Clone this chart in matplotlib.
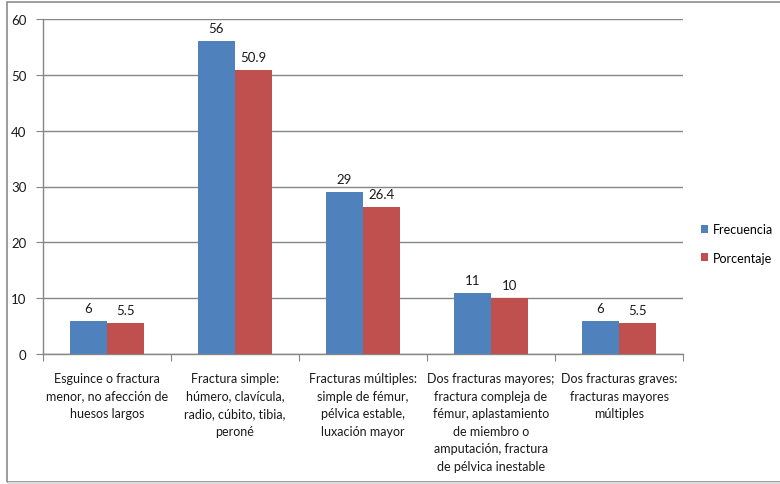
import matplotlib
matplotlib.use("Agg")
import matplotlib.pyplot as plt
from matplotlib.patches import Rectangle
import numpy as np

categories = [
    "Esguince o fractura\nmenor, no afección de\nhuesos largos",
    "Fractura simple:\nhúmero, clavícula,\nradio, cúbito, tibia,\nperoné",
    "Fracturas múltiples:\nsimple de fémur,\npélvica estable,\nluxación mayor",
    "Dos fracturas mayores;\nfractura compleja de\nfémur, aplastamiento\nde miembro o\namputación, fractura\nde pélvica inestable",
    "Dos fracturas graves:\nfracturas mayores\nmúltiples",
]
frecuencia = [6, 56, 29, 11, 6]
porcentaje = [5.5, 50.9, 26.4, 10, 5.5]
series_names = ["Frecuencia", "Porcentaje"]
yticks = [0, 10, 20, 30, 40, 50, 60]

blue = "#4F81BD"
red = "#C0504D"
axis_gray = "#868686"

plt.rcParams["font.family"] = ["Lato", "DejaVu Sans"]

W, H = 780, 485
fig = plt.figure(figsize=(W / 100, H / 100), dpi=100)

# outer chart frame
fig.patches.append(Rectangle((7 / W, 2 / H), 1.2, 480 / H, transform=fig.transFigure,
                             fill=False, edgecolor="#8c8c8c", linewidth=1.2))
fig.patches.append(Rectangle((8 / W, 1.5 / H), 1.2, 0, transform=fig.transFigure,
                             fill=False, edgecolor="#dcdcdc", linewidth=1.4))

ax = fig.add_axes([43 / W, 1 - 355 / H, 640 / W, 335 / H])

x = np.arange(len(categories))
bw = 0.29
b1 = ax.bar(x - bw / 2, frecuencia, bw, color=blue, label=series_names[0], zorder=3)
b2 = ax.bar(x + bw / 2, porcentaje, bw, color=red, label=series_names[1], zorder=3)

for bars, vals in ((b1, frecuencia), (b2, porcentaje)):
    for rect, v in zip(bars, vals):
        ax.annotate(f"{v:g}", (rect.get_x() + rect.get_width() / 2, v),
                    xytext=(0, 5), textcoords="offset points",
                    ha="center", va="bottom", fontsize=9.5, color="#1a1a1a")

ax.set_xlim(-0.5, len(categories) - 0.5)
ax.set_ylim(0, 60)
ax.set_yticks(yticks)
ax.yaxis.grid(True, color=axis_gray, linewidth=1, zorder=0)
ax.set_axisbelow(True)

for side in ("top", "right"):
    ax.spines[side].set_visible(False)
for side in ("left", "bottom"):
    ax.spines[side].set_color(axis_gray)
    ax.spines[side].set_linewidth(1)

ax.tick_params(axis="y", length=5, color=axis_gray, labelsize=9.5, pad=7, labelcolor="#1a1a1a")
ax.set_xticks(np.arange(-0.5, len(categories)), minor=False)
ax.set_xticklabels([])
ax.set_xticks(x, minor=True)
ax.set_xticklabels(categories, minor=True)
ax.tick_params(axis="x", which="major", length=5, color=axis_gray)
ax.tick_params(axis="x", which="minor", length=0, labelsize=9, pad=13, labelcolor="#1a1a1a")
for lab in ax.get_xticklabels(minor=True):
    lab.set_linespacing(1.55)

leg = ax.legend(loc="center left", bbox_to_anchor=(1.01, 0.33), frameon=False,
                fontsize=9, handlelength=0.6, handleheight=0.6, handletextpad=0.4,
                labelspacing=1.3)

fig.savefig("out.png", dpi=100)
